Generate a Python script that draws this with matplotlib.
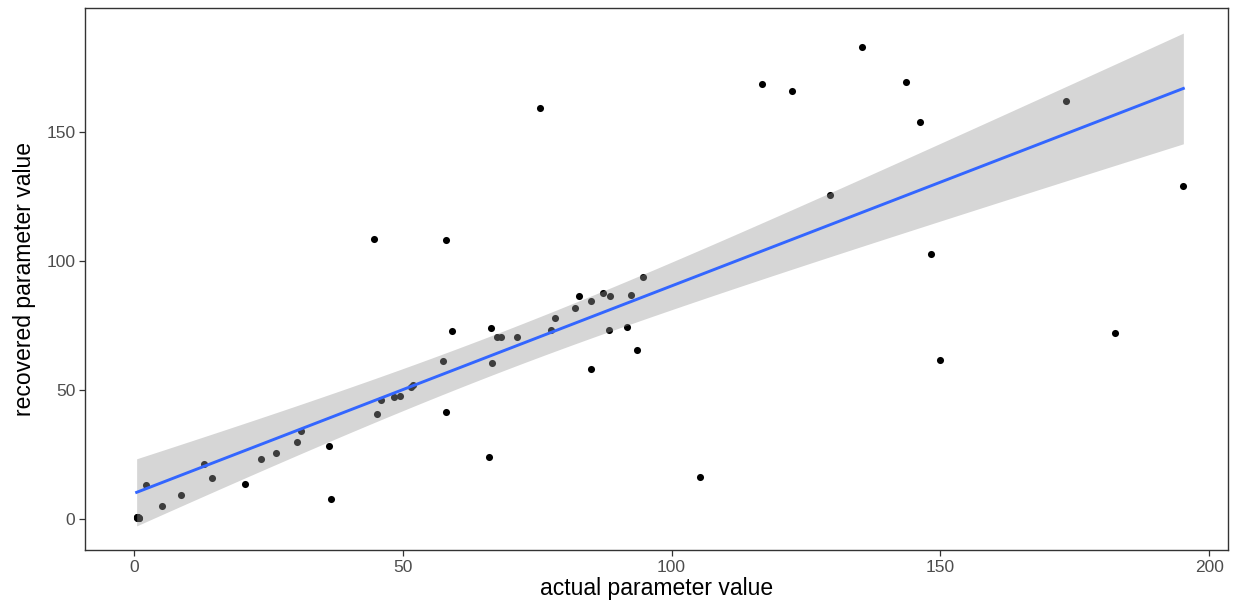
## Scatter of recovered vs. actual parameter values with a linear fit and 95% band

import numpy as np
import matplotlib
matplotlib.use("Agg")
import matplotlib.pyplot as plt

# Values (several runs sit stacked at the origin)
actual = [0.5, 0.9, 0.6, 0.7, 0.8, 0.6, 0.9, 2.2, 5.3, 8.7, 13.1, 14.5, 20.7, 23.7,
          26.4, 30.4, 31.1, 36.2, 36.7, 44.6, 45.3, 46.0, 48.4, 49.5, 51.6, 51.9,
          57.4, 58.1, 58.0, 59.2, 66.0, 66.4, 66.6, 67.6, 68.3, 71.2, 75.5, 77.5,
          78.4, 82.0, 82.7, 85.0, 85.1, 87.3, 88.6, 88.4, 91.7, 92.4, 93.6, 94.6,
          105.2, 116.9, 122.4, 129.5, 135.4, 143.6, 146.3, 148.2, 150.0, 173.4,
          182.5, 195.2]
recovered = [0.5, 0.3, 0.2, 0.4, 0.1, 0.6, 0.2, 12.9, 5.0, 9.0, 21.3, 15.6, 13.3, 23.1,
             25.5, 29.8, 33.8, 28.2, 7.5, 108.4, 40.7, 46.0, 47.0, 47.5, 50.9, 51.9,
             61.1, 108.0, 41.4, 72.6, 24.0, 74.0, 60.3, 70.2, 70.2, 70.4, 159.0, 73.2,
             77.7, 81.7, 86.2, 58.0, 84.4, 87.5, 86.2, 73.2, 74.1, 86.7, 65.2, 93.8,
             16.1, 168.3, 165.8, 125.4, 182.6, 169.2, 153.7, 102.6, 61.6, 161.7,
             71.8, 128.9]
xTicks = [0, 50, 100, 150, 200]
yTicks = [0, 50, 100, 150]

x = np.array(actual)
y = np.array(recovered)

# Ordinary least squares fit and 95% confidence band for the mean
n = len(x)
slope, intercept = np.polyfit(x, y, 1)
resid = y - (slope * x + intercept)
s = np.sqrt(np.sum(resid ** 2) / (n - 2))
tval = 2.0  # t quantile 0.975, df = n - 2
xFit = np.linspace(x.min(), x.max(), 80)
yFit = slope * xFit + intercept
se = s * np.sqrt(1.0 / n + (xFit - x.mean()) ** 2 / np.sum((x - x.mean()) ** 2))

plt.rcParams['font.family'] = ['Liberation Sans', 'DejaVu Sans']

fig = plt.figure(figsize=(12.36, 6.10), dpi=100)
ax = fig.add_axes([0.0688, 0.0984, 0.9247, 0.8885])

# Points first, then the translucent band over them, then the line
ax.scatter(x, y, s=26, color="black", linewidths=0, zorder=1)
ax.fill_between(xFit, yFit - tval * se, yFit + tval * se, color="#999999",
                alpha=0.4, linewidth=0, zorder=2)
ax.plot(xFit, yFit, color="#3366FF", linewidth=2.1, zorder=3)

ax.set_xlim(-9.1, 203.5)
ax.set_ylim(-12.2, 197.9)
ax.set_xticks(xTicks)
ax.set_yticks(yTicks)

ax.set_xlabel("actual parameter value", fontsize=16.5, color="black", labelpad=2)
ax.set_ylabel("recovered parameter value", fontsize=16.5, color="black", labelpad=7)
ax.tick_params(axis="both", colors="#333333", labelcolor="#4D4D4D",
               labelsize=12.5, length=4, width=0.9, pad=3)
for side in ax.spines.values():
    side.set_color("#333333")
    side.set_linewidth(1.0)

fig.savefig("out.png", dpi=100)
